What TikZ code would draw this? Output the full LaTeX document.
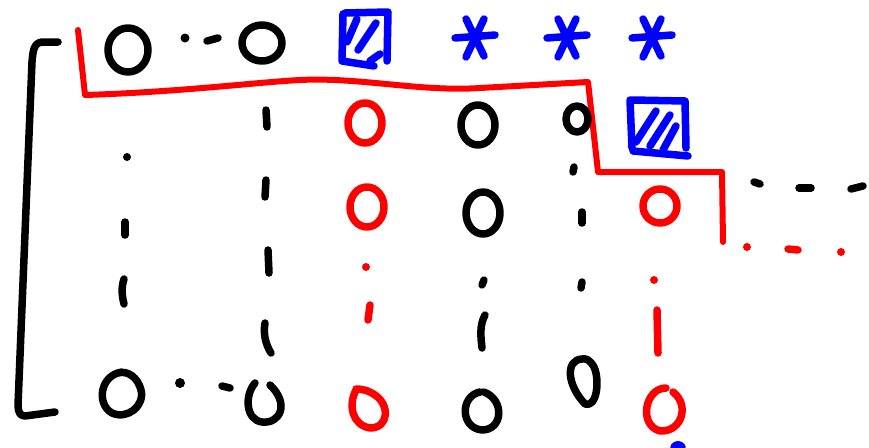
\documentclass[tikz,border=0pt]{standalone}
\begin{document}
\begin{tikzpicture}[x=1pt,y=-1pt,line cap=round,line join=round]
\useasboundingbox (0,0) rectangle (869,447);
\definecolor{pr}{RGB}{255,0,0}
\definecolor{pb}{RGB}{0,0,255}
\tikzset{
  pen/.style={line width=7.5pt},
  bk/.style={pen,black},
  rd/.style={pen,pr},
  bl/.style={pen,pb},
  thinrd/.style={line width=6pt,pr}
}
% left bracket
\draw[bk] (58,42) -- (42,42) .. controls (34,43) and (33,50) .. (32,62) -- (18,405) .. controls (18,412) and (20,416) .. (25,416) -- (55,412);
% red staircase border
\draw[thinrd] (78,30) -- (85,95) .. controls (180,92) and (260,82) .. (300,80) .. controls (360,77) and (420,92) .. (480,88) -- (588,82) -- (598,172) -- (722,172) -- (723,242);
% top row
\draw[bk] (128,50) ellipse [x radius=20, y radius=22];
\fill[black] (185,38) circle (4.5);
\draw[bk] (207,41) -- (218,38);
\draw[bk] (262,43) ellipse [x radius=20, y radius=18];
% blue box top
\draw[bl] (345,13) -- (388,12) -- (387,61);
\draw[bl] (343,14) -- (342,61) -- (374,66);
\draw[bl] (347,42) -- (357,19);
\draw[bl] (358,50) -- (376,23);
\draw[bl] (370,61) -- (380,54);
% asterisks
\foreach \cx in {475,567,652}{
  \draw[bl] (\cx-20,38) -- (\cx+20,35);
  \draw[bl] (\cx-9,19) -- (\cx+9,56);
  \draw[bl] (\cx+9,19) -- (\cx-9,57);
}
% row 2
\draw[bk] (266,110) -- (267,127);
\draw[rd] (365,123) ellipse [x radius=17, y radius=20];
\draw[bk] (478,125) ellipse [x radius=17, y radius=20];
\draw[bk] (577,119) ellipse [x radius=11, y radius=13];
% blue box right
\draw[bl] (630,100) -- (632,148);
\draw[bl] (632,100) -- (685,101) -- (686,148);
\draw[bl] (633,151) -- (688,156);
\draw[bl] (636,142) -- (656,111);
\draw[bl] (650,146) -- (670,115);
\draw[bl] (663,150) -- (676,126);
% row 3
\fill[black] (127,157) circle (4);
\draw[bk] (266,180) -- (265,197);
\draw[bk] (574,167) -- (573,172);
% row 4
\draw[rd] (367,207) ellipse [x radius=17, y radius=20];
\draw[bk] (483,213) ellipse [x radius=17, y radius=21];
\draw[bk] (582,212) -- (582,223);
\draw[rd] (660,206) ellipse [x radius=17, y radius=17];
\draw[bk] (754,182) -- (760,184);
\draw[bk] (799,188) -- (811,188);
\draw[bk] (851,189) -- (863,186);
% red dots right
\fill[pr] (747,247) circle (4);
\draw[rd] (788,249) -- (798,250);
\fill[pr] (841,252) circle (4);
% left column ticks
\draw[bk] (125,222) -- (125,235);
% row 5
\draw[bk] (268,250) -- (269,273);
\fill[pr] (366,267) circle (4);
\draw[bk] (484,280) -- (482,285);
\draw[bk] (582,282) -- (581,288);
\fill[pr] (654,280) circle (4);
% row 6
\draw[bk] (124,279) .. controls (121,288) and (122,296) .. (124,304);
\draw[rd] (370,305) -- (368,320);
\draw[bk] (265,323) .. controls (263,335) and (266,345) .. (271,353);
\draw[bk] (485,315) .. controls (479,326) and (481,338) .. (482,348);
\draw[rd] (657,310) -- (658,353);
% bottom row
\draw[bk] (122,372) .. controls (100,375) and (96,404) .. (112,413) .. controls (127,420) and (145,406) .. (141,390) .. controls (138,378) and (128,370) .. (118,373);
\fill[black] (180,383) circle (5);
\draw[bk] (222,386) -- (230,388);
\draw[bk] (255,383) .. controls (244,396) and (246,420) .. (262,422) .. controls (280,424) and (290,404) .. (270,385);
\draw[rd] (356,390) .. controls (348,405) and (352,425) .. (370,428) .. controls (389,428) and (390,405) .. (375,395) .. controls (368,390) and (361,389) .. (356,389);
\draw[bk] (480,392) .. controls (460,396) and (460,428) .. (482,430) .. controls (503,430) and (505,400) .. (484,392);
\draw[bk] (582,359) .. controls (565,360) and (567,385) .. (585,404) .. controls (597,408) and (600,380) .. (594,367) .. controls (590,360) and (586,358) .. (582,359);
\draw[rd] (666,388) .. controls (645,388) and (638,425) .. (660,431) .. controls (682,432) and (690,405) .. (673,392);
% blue fragment at bottom
\draw[bl] (674,447) .. controls (676,444) and (680,444) .. (682,447);
\end{tikzpicture}
\end{document}
